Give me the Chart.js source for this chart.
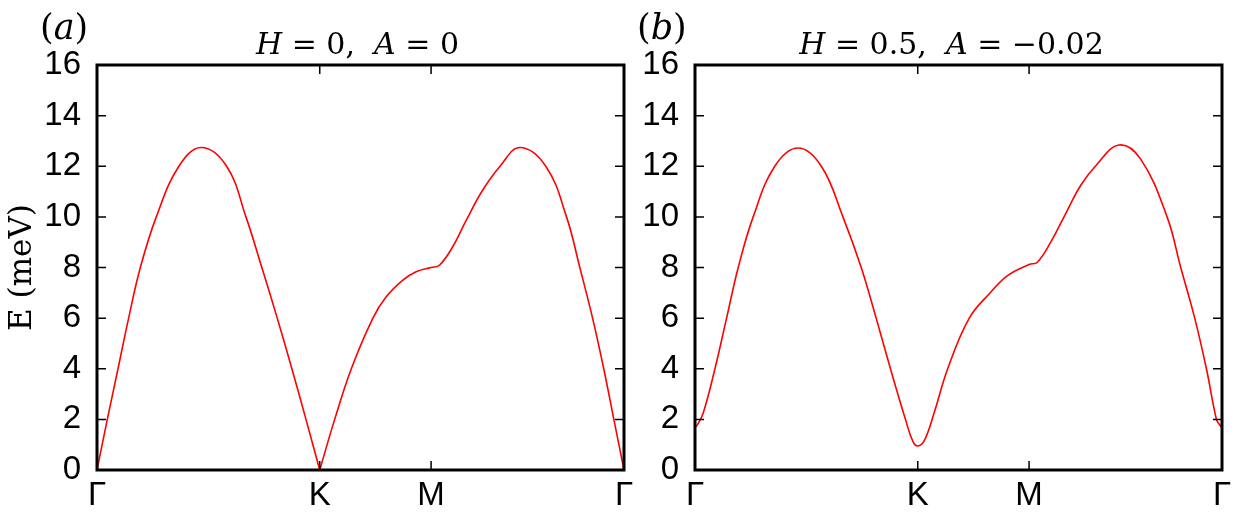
<!DOCTYPE html>
<html>
<head>
<meta charset="utf-8">
<script src="https://cdn.jsdelivr.net/npm/chart.js@4.4.1/dist/chart.umd.min.js"></script>
<style>
    html, body { margin: 0; padding: 0; background: #fff; }
    #marco { position: relative; width: 1239px; height: 518px; }
    #cajaA { position: absolute; left: 0; top: 0; width: 640px; height: 518px; }
    #cajaB { position: absolute; left: 620px; top: 0; width: 619px; height: 518px; }
</style>
</head>
<body>
<div id="marco">
    <div id="cajaA"><canvas id="graficoA"></canvas></div>
    <div id="cajaB"><canvas id="graficoB"></canvas></div>
</div>
<script>
/* --------------- datos --------------- */

// puntos de alta simetria (distancia acumulada en la zona de Brillouin)
const PUNTOS_K = [0, 4.189, 6.283, 9.911];
const ETIQUETAS_K = ['Γ', 'K', 'M', 'Γ'];

// (a) H = 0, A = 0 : dos tramos porque hay picos agudos en K
const A_TRAMO1_K = [0, 0.194, 0.395, 0.595, 0.815, 1.115, 1.54, 1.957, 2.438, 2.801, 3.10, 3.39, 3.665, 3.93, 4.189];
const A_TRAMO1_E = [0, 2, 4, 6, 8, 10, 12, 12.74, 12, 10, 8, 6, 4, 2, 0];
const A_TRAMO2_K = [4.189, 4.47, 4.783, 5.189, 5.439, 5.752, 6.002, 6.283, 6.44, 6.69, 6.94, 7.252, 7.58, 7.95, 8.44, 8.83, 9.08, 9.32, 9.53, 9.72, 9.911];
const A_TRAMO2_E = [0, 2, 4, 6, 6.84, 7.5, 7.83, 8.0, 8.09, 8.82, 9.85, 11.05, 12.0, 12.74, 12.0, 10, 8, 6, 4, 2, 0];

// (b) H = 0.5, A = -0.02
const B_K = [0, 0.05, 0.156, 0.375, 0.594, 0.813, 1.094, 1.5, 1.938, 2.376, 2.782, 3.126, 3.407, 3.676, 3.958, 4.095, 4.189,
             4.314, 4.502, 4.752, 5.158, 5.565, 5.877, 6.283, 6.44, 6.69, 6.94, 7.252, 7.55, 7.971, 8.378, 8.878, 9.135, 9.398, 9.618, 9.806, 9.869, 9.911];
const B_E = [1.67, 1.8, 2.26, 4, 6, 8, 10, 12, 12.72, 12, 10, 8, 6, 4, 2, 1.14, 0.95,
             1.17, 2.29, 4, 6, 7.03, 7.68, 8.12, 8.21, 9.0, 10, 11.24, 12.05, 12.84, 12.29, 10, 8, 6, 4, 2, 1.78, 1.67];

const E_MIN = 0;
const E_MAX = 16;
const E_PASO = 2;

/* --------------- plugins --------------- */

const SERIF = '"DejaVu Serif", serif';
const SANS = '"Liberation Sans", Arial, sans-serif';

function escribirPartes(ctx, partes, x, y, size, centrado) {
    const fuente = p => (p.it ? 'italic ' : '') + size + 'px ' + SERIF;
    let total = 0;
    partes.forEach(p => { ctx.font = fuente(p); p.w = ctx.measureText(p.t).width; total += p.w; });
    let xx = centrado ? x - total / 2 : x;
    partes.forEach(p => { ctx.font = fuente(p); ctx.fillText(p.t, xx, y); xx += p.w; });
}

// caja negra y marcas hacia adentro (estilo gnuplot)
const caja = {
    id: 'caja',
    afterDraw(chart) {
        const { ctx, chartArea: a, scales } = chart;
        ctx.save();
        ctx.strokeStyle = '#000';
        ctx.lineWidth = 1.5;
        ctx.beginPath();
        scales.y.ticks.forEach(t => {
            const y = scales.y.getPixelForValue(t.value);
            ctx.moveTo(a.left, y); ctx.lineTo(a.left + 9, y);
            ctx.moveTo(a.right, y); ctx.lineTo(a.right - 9, y);
        });
        scales.x.ticks.forEach(t => {
            const x = scales.x.getPixelForValue(t.value);
            ctx.moveTo(x, a.bottom); ctx.lineTo(x, a.bottom - 9);
            ctx.moveTo(x, a.top); ctx.lineTo(x, a.top + 9);
        });
        ctx.stroke();
        ctx.lineWidth = 3;
        ctx.strokeRect(a.left, a.top, a.right - a.left, a.bottom - a.top);
        ctx.restore();
    }
};

const rotulos = {
    id: 'rotulos',
    afterDraw(chart, args, opts) {
        const { ctx, chartArea: a } = chart;
        ctx.save();
        ctx.fillStyle = '#000';
        ctx.textBaseline = 'alphabetic';
        ctx.textAlign = 'left';
        escribirPartes(ctx, opts.titulo, (a.left + a.right) / 2 + opts.dx, 54, 30, true);
        escribirPartes(ctx, opts.panel, opts.panelX, 39, 35, false);
        ctx.restore();
    }
};

/* --------------- configuracion del grafico --------------- */

document.addEventListener('DOMContentLoaded', () => {

    function puntos(xs, ys) {
        return xs.map((x, i) => ({ x: x, y: ys[i] }));
    }

    function serie(xs, ys) {
        return {
            data: puntos(xs, ys),
            borderColor: '#ff0000',
            borderWidth: 1.6,
            pointRadius: 0,
            fill: false,
            tension: 0.4
        };
    }

    function configurar(anchoEjeY, derecha, conTituloY, rot) {
        return {
            responsive: true,
            maintainAspectRatio: false,
            animation: false,
            layout: { padding: { left: 0, right: derecha, top: 65, bottom: 0 } },
            plugins: {
                legend: { display: false },
                tooltip: { enabled: false },
                rotulos: rot
            },
            scales: {
                x: {
                    type: 'linear',
                    min: PUNTOS_K[0],
                    max: PUNTOS_K[PUNTOS_K.length - 1],
                    afterBuildTicks: s => { s.ticks = PUNTOS_K.map(v => ({ value: v })); },
                    afterFit: s => { s.height = 48; },
                    grid: { display: false, drawTicks: false },
                    border: { display: false },
                    ticks: {
                        autoSkip: false,
                        maxRotation: 0,
                        padding: 6,
                        color: '#000',
                        font: { family: SANS, size: 33 },
                        callback: (v, i) => ETIQUETAS_K[i]
                    }
                },
                y: {
                    min: E_MIN,
                    max: E_MAX,
                    afterFit: s => { s.width = anchoEjeY; },
                    grid: { display: false, drawTicks: false },
                    border: { display: false },
                    ticks: {
                        stepSize: E_PASO,
                        padding: 16,
                        color: '#000',
                        font: { family: SANS, size: 33 }
                    },
                    title: {
                        display: conTituloY,
                        text: 'E (meV)',
                        color: '#000',
                        padding: { top: 4, bottom: 0 },
                        font: { family: SERIF, size: 31 }
                    }
                }
            }
        };
    }

    new Chart(document.getElementById('graficoA'), {
        type: 'line',
        data: { datasets: [serie(A_TRAMO1_K, A_TRAMO1_E), serie(A_TRAMO2_K, A_TRAMO2_E)] },
        options: configurar(97, 16, true, {
            dx: -3,
            panelX: 40,
            titulo: [{ t: 'H', it: true }, { t: ' = 0,  ' }, { t: 'A', it: true }, { t: ' = 0' }],
            panel: [{ t: '(' }, { t: 'a', it: true }, { t: ')' }]
        }),
        plugins: [caja, rotulos]
    });

    new Chart(document.getElementById('graficoB'), {
        type: 'line',
        data: { datasets: [serie(B_K, B_E)] },
        options: configurar(75, 17, false, {
            dx: -7,
            panelX: 17,
            titulo: [{ t: 'H', it: true }, { t: ' = 0.5,  ' }, { t: 'A', it: true }, { t: ' = −0.02' }],
            panel: [{ t: '(' }, { t: 'b', it: true }, { t: ')' }]
        }),
        plugins: [caja, rotulos]
    });

});
</script>
</body>
</html>
